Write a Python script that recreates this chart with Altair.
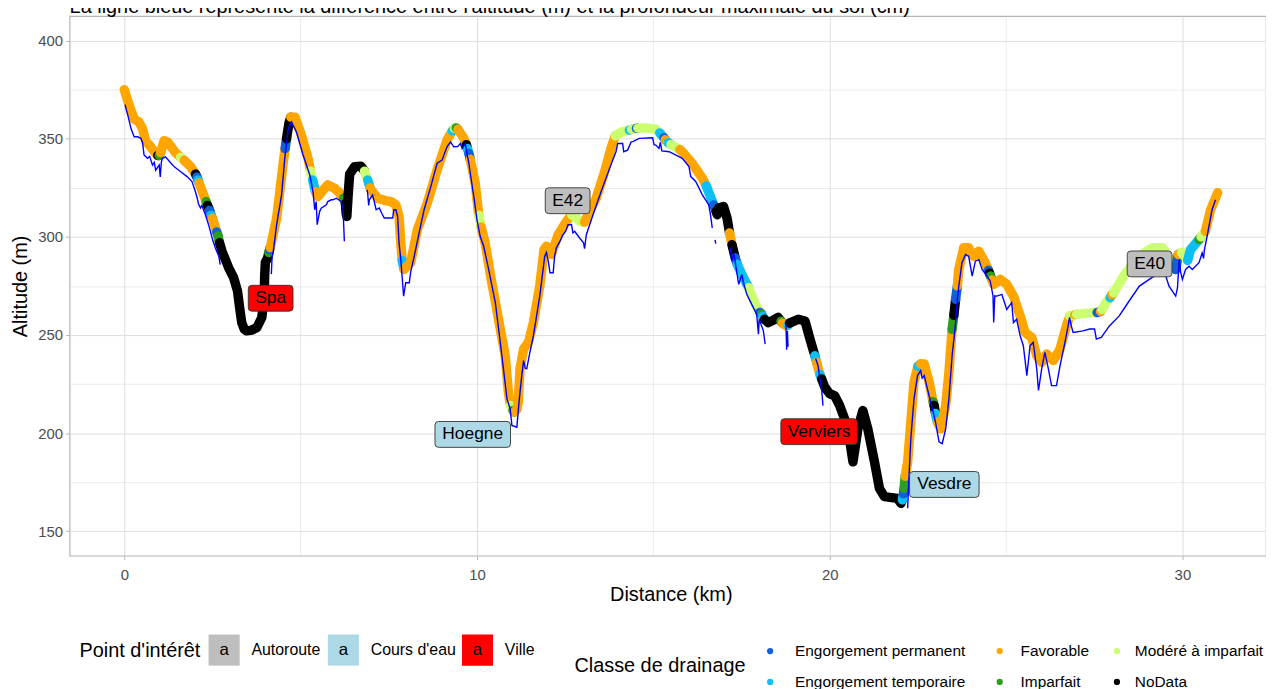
import altair as alt
import pandas as pd

# ---------------------------------------------------------------- texts
SUBTITLE = "La ligne bleue représente la différence entre l'altitude (m) et la profondeur maximale du sol (cm)"
X_TITLE = "Distance (km)"
Y_TITLE = "Altitude (m)"
X_GRID = [0, 5, 10, 15, 20, 25, 30]
Y_GRID = [150, 175, 200, 225, 250, 275, 300, 325, 350, 375, 400]

# ---------------------------------------------------------------- drainage classes
CLASS_CODES = ["P", "T", "F", "I", "M", "N"]
DRAIN_CLASSES = ["Engorgement permanent", "Engorgement temporaire", "Favorable",
                 "Imparfait", "Modéré à imparfait", "NoData"]
DRAIN_COLORS = ["#1160D8", "#0DBFF5", "#FFA500", "#2E9E1F", "#CCFF70", "#000000"]

# ---------------------------------------------------------------- profile (distance km, altitude m, class of following stretch)
PROFILE_KM = [
    0.00, 0.14, 0.28, 0.42, 0.52, 0.61, 0.70, 0.89, 0.95, 0.99,
    1.03, 1.13, 1.22, 1.45, 1.60, 1.70, 1.88, 2.02, 2.06, 2.09,
    2.12, 2.25, 2.32, 2.36, 2.42, 2.46, 2.50, 2.62, 2.66, 2.70,
    2.77, 2.96, 3.10, 3.21, 3.27, 3.33, 3.40, 3.47, 3.62, 3.76,
    3.90, 3.94, 3.97, 3.98, 4.00, 4.06, 4.10, 4.12, 4.14, 4.32,
    4.41, 4.51, 4.56, 4.60, 4.67, 4.72, 4.84, 5.02, 5.21, 5.28,
    5.34, 5.42, 5.49, 5.60, 5.77, 5.96, 6.10, 6.22, 6.27, 6.29,
    6.31, 6.35, 6.39, 6.53, 6.71, 6.81, 6.90, 6.97, 7.00, 7.18,
    7.40, 7.56, 7.70, 7.79, 7.84, 7.88, 7.93, 8.12, 8.31, 8.59,
    8.87, 9.15, 9.30, 9.36, 9.41, 9.46, 9.62, 9.70, 9.73, 9.77,
    9.81, 9.95, 10.05, 10.12, 10.23, 10.42, 10.61, 10.80, 10.89, 10.95,
    11.02, 11.06, 11.13, 11.17, 11.22, 11.32, 11.46, 11.60, 11.78, 11.90,
    11.97, 12.11, 12.30, 12.54, 12.68, 12.80, 12.91, 13.05, 13.38, 13.62,
    13.80, 13.92, 14.10, 14.32, 14.38, 14.52, 14.56, 14.70, 14.90, 15.07,
    15.18, 15.30, 15.34, 15.42, 15.50, 15.75, 15.82, 16.10, 16.39, 16.50,
    16.71, 16.78, 16.81, 16.85, 16.99, 17.09, 17.16, 17.23, 17.32, 17.38,
    17.51, 17.70, 17.89, 18.02, 18.07, 18.10, 18.15, 18.26, 18.40, 18.54,
    18.62, 18.66, 18.78, 18.82, 18.86, 19.11, 19.30, 19.44, 19.58, 19.63,
    19.72, 19.77, 19.86, 20.00, 20.14, 20.28, 20.42, 20.56, 20.66, 20.80,
    20.94, 21.08, 21.27, 21.41, 21.55, 21.92, 22.02, 22.06, 22.09, 22.11,
    22.14, 22.21, 22.30, 22.39, 22.50, 22.58, 22.68, 22.82, 22.93, 22.96,
    23.00, 23.05, 23.15, 23.29, 23.38, 23.47, 23.52, 23.57, 23.62, 23.66,
    23.80, 23.94, 24.08, 24.23, 24.41, 24.50, 24.53, 24.56, 24.60, 24.65,
    24.84, 25.02, 25.21, 25.40, 25.54, 25.73, 25.87, 26.01, 26.15, 26.34,
    26.53, 26.71, 26.81, 26.95, 27.00, 27.46, 27.58, 27.68, 27.72, 27.84,
    27.95, 28.00, 28.05, 28.40, 28.78, 29.15, 29.44, 29.62, 29.76, 29.81,
    29.88, 29.98, 30.15, 30.23, 30.47, 30.53, 30.65, 30.80, 31.00,
]
PROFILE_ALT = [
    375.0, 367.0, 360.0, 358.5, 355.0, 348.5, 347.0, 342.5, 341.5, 341.5,
    343.0, 349.0, 348.5, 343.0, 340.5, 339.0, 335.8, 332.0, 330.5, 329.0,
    327.5, 321.4, 318.0, 316.0, 313.5, 311.0, 309.5, 302.5, 300.5, 297.0,
    292.7, 284.2, 279.2, 272.4, 264.0, 256.3, 253.0, 252.1, 252.5, 253.8,
    258.9, 265.6, 272.0, 280.0, 287.0, 289.0, 292.0, 293.5, 294.5, 309.6,
    323.1, 338.3, 345.0, 350.0, 358.0, 361.0, 361.0, 351.8, 340.0, 333.5,
    329.0, 323.0, 320.5, 323.0, 326.5, 324.8, 322.5, 319.8, 317.0, 312.0,
    310.4, 322.0, 332.0, 335.8, 336.0, 333.5, 329.0, 325.0, 323.9, 319.7,
    318.5, 318.0, 316.3, 310.4, 296.9, 288.0, 283.4, 286.8, 303.7, 317.2,
    334.1, 349.3, 354.0, 355.3, 355.5, 354.8, 350.5, 347.0, 345.0, 342.5,
    339.5, 327.3, 311.0, 305.0, 296.9, 276.6, 258.0, 239.4, 220.8, 214.0,
    211.5, 210.7, 212.0, 215.8, 232.7, 242.8, 246.2, 256.4, 275.0, 293.5,
    295.2, 291.0, 301.1, 307.9, 311.3, 310.0, 307.9, 307.5, 319.7, 333.2,
    345.1, 351.5, 353.5, 354.4, 354.8, 355.3, 355.4, 355.5, 355.3, 354.9,
    353.0, 350.5, 349.5, 348.0, 347.0, 344.5, 343.4, 337.5, 329.9, 326.0,
    316.3, 313.0, 311.3, 314.7, 315.5, 309.6, 302.0, 296.0, 289.3, 286.0,
    280.8, 274.1, 265.6, 261.5, 260.6, 259.5, 258.0, 256.3, 257.5, 258.9,
    257.0, 256.0, 254.6, 255.0, 256.0, 258.0, 257.1, 247.9, 239.4, 236.0,
    230.0, 227.6, 223.4, 220.0, 219.1, 214.1, 207.3, 197.2, 185.3, 202.2,
    211.5, 202.2, 185.3, 171.8, 167.6, 166.7, 164.2, 166.0, 169.0, 171.8,
    178.0, 185.3, 205.6, 225.9, 234.0, 235.2, 235.2, 225.9, 216.0, 214.1,
    210.0, 205.6, 202.2, 214.1, 231.0, 252.9, 260.0, 268.2, 275.0, 283.4,
    294.4, 294.4, 290.1, 292.7, 286.8, 283.0, 281.5, 280.0, 278.0, 275.8,
    278.3, 275.8, 269.8, 259.7, 251.3, 248.7, 239.4, 236.0, 240.3, 236.9,
    242.8, 254.6, 259.7, 260.3, 260.5, 261.4, 261.4, 262.0, 263.0, 266.5,
    269.0, 270.5, 271.5, 281.7, 290.1, 294.4, 294.4, 289.3, 285.0, 283.4,
    291.0, 292.0, 288.0, 293.5, 298.6, 300.0, 302.8, 313.8, 322.5,
]
PROFILE_CLASS = list(
    "FFFFFFFFNI" "FFFFMFFNPT" "FFINPTFPIN" "NNNNNNNNNN" "NNNNNNIPFF"
    "FFPNNFFFFM" "TFFFFFFINN" "NNNNNMTFFF" "FFFFFTFFFF" "FFTMIFFNTP"
    "FFMFFFFFFM" "IFFFFFFFFF" "FFFFMMMFFF" "FMMTMPMMMM" "TPFTMFFFFT"
    "PNNNNNFNPT" "TMMPITNNNN" "IFFTNNNNTF" "TNNNNNNNNN" "NNNNNNNTPI"
    "FFFFTFFFIN" "TFFFFINPFF" "FFFFFPNIFF" "FFFFFFFFFF" "FFMFMMPFMM"
    "TFMMMMMMIP" "FMTTIMFFF"
)

# ---------------------------------------------------------------- blue line (altitude - max soil depth); None = gap
BLUE_KM = [
    0.02, 0.10, 0.19, 0.28, 0.38, 0.47, 0.52, 0.56, 0.66, 0.72,
    0.80, 0.85, 0.89, 0.99, 1.02, 1.05, 1.08, 1.17, 1.30, 1.41,
    1.60, 1.78, 1.92, 2.00, 2.07, 2.10, 2.16, 2.20, 2.30, 2.39,
    2.49, 2.58, 2.68, 2.72, None,
    4.17, 4.19, 4.22, 4.32, 4.46, 4.55, 4.65, 4.74, 4.88, 5.07,
    5.26, 5.35, 5.40, 5.44, 5.47, 5.54, 5.59, 5.73, 5.77, 5.87,
    5.92, 6.01, 6.15, 6.20, 6.24, None,
    6.88, 6.90, 6.93, 6.95, 7.04, 7.10, 7.14, 7.23, 7.30, 7.37,
    7.61, 7.64, 7.70, 7.75, 7.79, 7.84, 7.92, 7.98, 8.08, 8.12,
    8.22, 8.36, 8.50, 8.69, 8.87, 9.01, 9.15, 9.25, 9.34, 9.45,
    9.53, 9.58, 9.67, 9.70, 9.77, 9.81, 9.91, 10.00, 10.09, 10.19,
    10.33, 10.52, 10.66, 10.75, 10.85, 10.94, 10.99, 11.13, 11.20, 11.27,
    11.32, 11.37, 11.41, 11.50, 11.60, 11.78, 11.92, 11.97, 12.02, 12.07,
    12.16, 12.20, 12.25, 12.35, 12.44, 12.52, 12.58, 12.68, 12.72, 12.77,
    12.91, 13.02, 13.05, 13.10, 13.29, 13.52, 13.76, 13.94, 13.99, 14.13,
    14.16, 14.27, 14.37, 14.42, 14.60, 14.98, 15.02, 15.07, 15.16, 15.20,
    15.24, 15.45, 15.82, 16.01, 16.06, 16.20, 16.39, 16.57, 16.62, 16.67, None,
    16.75, 16.77, None,
    17.18, 17.23, 17.28, 17.42, 17.51, 17.55, 17.65, 17.79, 17.93, 17.98,
    18.00, 18.12, 18.17, None,
    18.76, 18.78, 18.80, 18.82, None,
    19.60, 19.67, 19.72, 19.77, 19.81, None,
    22.21, 22.25, 22.30, 22.39, 22.49, 22.58, 22.62, 22.68, 22.77, 22.91,
    23.00, 23.10, 23.19, 23.29, 23.38, 23.47, 23.57, 23.62, 23.66, 23.75,
    23.85, 23.94, 24.04, 24.13, 24.23, 24.32, 24.46, 24.55, 24.63, 24.65,
    24.68, 24.74, 24.88, 25.02, 25.16, 25.21, 25.30, 25.40, 25.49, 25.59,
    25.68, 25.77, 25.87, 25.92, 26.01, 26.10, 26.20, 26.29, 26.43, 26.53,
    26.67, 26.76, 26.80, 26.85, 26.90, 27.18, 27.37, 27.51, 27.56, 27.70,
    27.93, 28.21, 28.49, 28.78, 29.06, 29.34, 29.53, 29.62, 29.81, 29.86,
    29.91, 29.95, 30.00, 30.09, 30.19, 30.28, 30.47, 30.56, 30.60, 30.62,
    30.70, 30.84, 30.94,
]
BLUE_ALT = [
    367.4, 362.0, 355.2, 351.0, 351.0, 350.2, 348.0, 341.7, 340.0, 341.0,
    336.6, 338.0, 334.0, 336.6, 330.5, 338.0, 340.0, 340.8, 338.0, 335.8,
    333.2, 330.7, 328.2, 324.0, 319.7, 317.0, 314.7, 316.0, 311.3, 306.2,
    299.4, 294.4, 290.1, 285.9, None,
    281.0, 290.0, 292.0, 306.2, 321.4, 340.0, 355.2, 358.6, 353.5, 341.7,
    331.5, 323.1, 313.8, 318.0, 306.2, 313.0, 314.7, 316.3, 318.0, 318.9,
    318.9, 319.7, 318.0, 315.0, 297.7, None,
    324.0, 322.3, 316.0, 318.9, 321.4, 317.0, 313.8, 314.7, 312.0, 309.6,
    309.6, 313.8, 313.8, 310.4, 296.9, 288.4, 269.8, 276.6, 276.6, 282.0,
    290.1, 302.0, 313.8, 325.6, 337.5, 339.1, 345.9, 348.4, 345.9, 346.0,
    347.6, 345.0, 347.6, 344.0, 337.5, 332.4, 320.5, 308.7, 300.3, 295.2,
    283.4, 266.5, 246.2, 232.7, 217.4, 212.4, 203.9, 203.0, 217.4, 229.3,
    236.9, 233.0, 232.7, 241.1, 249.6, 269.8, 290.1, 292.0, 287.6, 281.7,
    281.7, 290.0, 294.4, 297.7, 301.1, 303.0, 306.2, 306.2, 302.0, 302.8,
    299.4, 297.0, 294.0, 301.1, 311.3, 323.1, 334.9, 343.4, 347.6, 347.6,
    343.4, 344.2, 348.4, 348.5, 350.2, 350.5, 347.0, 346.8, 345.1, 348.2,
    343.8, 343.4, 340.0, 335.8, 330.7, 328.2, 321.4, 316.3, 311.3, 304.5, None,
    298.5, 296.5, None,
    294.4, 287.6, 292.0, 275.8, 280.8, 277.0, 270.7, 265.6, 260.6, 250.4,
    258.0, 252.1, 245.3, None,
    255.0, 242.5, 252.0, 244.0, None,
    238.0, 234.3, 228.0, 222.5, 214.0, None,
    161.7, 178.6, 197.2, 217.4, 229.3, 231.8, 228.0, 229.3, 222.5, 212.4,
    205.6, 195.5, 194.6, 202.2, 217.4, 239.4, 256.3, 268.2, 274.9, 286.8,
    291.0, 290.1, 280.0, 287.6, 288.4, 283.4, 280.0, 277.5, 270.0, 256.3,
    270.0, 269.8, 270.7, 263.0, 266.5, 256.3, 258.0, 249.6, 244.5, 229.3,
    244.5, 246.2, 232.7, 221.7, 232.7, 241.1, 232.7, 224.2, 224.2, 234.3,
    246.2, 254.6, 259.0, 254.6, 251.3, 252.1, 253.0, 253.0, 247.9, 248.7,
    254.6, 259.7, 267.3, 274.9, 278.3, 281.7, 280.0, 274.9, 269.8, 274.0,
    288.4, 282.0, 278.3, 283.4, 285.0, 283.4, 286.8, 291.8, 289.0, 293.0,
    300.3, 313.8, 318.9,
]

# ---------------------------------------------------------------- points of interest
POI_TYPES = ["Autoroute", "Cours d'eau", "Ville"]
POI_COLORS = ["#BEBEBE", "#ADD8E6", "#FF0000"]
LABEL_TEXT = ["Spa", "Hoegne", "E42", "Verviers", "Vesdre", "E40"]
LABEL_TYPE = ["Ville", "Cours d'eau", "Autoroute", "Ville", "Cours d'eau", "Autoroute"]
LABEL_KM = [4.15, 9.88, 12.57, 19.70, 23.25, 29.07]
LABEL_ALT = [268.7, 199.3, 318.4, 200.7, 173.8, 286.2]

# ---------------------------------------------------------------- styles / layout (pixels)
FONT = "Liberation Sans"
BOX_W = {"Spa": 45, "Hoegne": 76, "E42": 45, "Verviers": 77, "Vesdre": 70, "E40": 45}
BOX_H = 26
PLOT_W, PLOT_H = 1204, 543

# ---------------------------------------------------------------- build tables
code_to_name = dict(zip(CLASS_CODES, DRAIN_CLASSES))
n = min(len(PROFILE_KM), len(PROFILE_ALT), len(PROFILE_CLASS))
rows = []
i, run = 0, 0
while i < n - 1:
    c = PROFILE_CLASS[i]
    j = i
    while j < n - 1 and PROFILE_CLASS[j] == c:
        j += 1
    for k in range(i, j + 1):
        rows.append({"run": run, "o": k, "km": PROFILE_KM[k], "alt": PROFILE_ALT[k],
                     "classe": code_to_name[c]})
    run += 1
    i = j
prof_df = pd.DataFrame(rows)

brows = []
piece, o = 0, 0
for km, a in zip(BLUE_KM, BLUE_ALT):
    if km is None or a is None:
        piece += 1
        continue
    brows.append({"piece": piece, "o": o, "km": km, "alt": a})
    o += 1
blue_df = pd.DataFrame(brows)


def rrect(w, h, r=3.5):
    a, b = w / 2.0, h / 2.0
    return (f"M{-a + r:.2f},{-b:.2f}L{a - r:.2f},{-b:.2f}Q{a:.2f},{-b:.2f},{a:.2f},{-b + r:.2f}"
            f"L{a:.2f},{b - r:.2f}Q{a:.2f},{b:.2f},{a - r:.2f},{b:.2f}"
            f"L{-a + r:.2f},{b:.2f}Q{-a:.2f},{b:.2f},{-a:.2f},{b - r:.2f}"
            f"L{-a:.2f},{-b + r:.2f}Q{-a:.2f},{-b:.2f},{-a + r:.2f},{-b:.2f}Z")


lab_df = pd.DataFrame({"label": LABEL_TEXT, "type": LABEL_TYPE, "km": LABEL_KM, "alt": LABEL_ALT})
box_paths = [rrect(BOX_W[t], BOX_H) for t in LABEL_TEXT]

# ---------------------------------------------------------------- scales / axes
x_scale = alt.Scale(domain=[-1.55, 32.37], nice=False, zero=False)
y_scale = alt.Scale(domain=[137.5, 412.5], nice=False, zero=False)

x_axis = alt.Axis(
    values=X_GRID, labelExpr="datum.value % 10 === 0 ? datum.label : ''",
    title=X_TITLE, grid=True, gridColor="#DEDEDE",
    gridWidth={"condition": {"test": "datum.value % 10 === 0", "value": 1.0}, "value": 0.6},
    tickColor="#B3B3B3", tickSize=4, tickWidth=1,
    tickOpacity={"condition": {"test": "datum.value % 10 === 0", "value": 1}, "value": 0},
    domain=False, labelFontSize=15, labelColor="#4D4D4D", labelPadding=8,
    labelOverlap=False, labelFlush=False,
    titleFontSize=20, titleFontWeight="normal", titleColor="#000000", titlePadding=2,
    titleX=605, titleAnchor="middle")
y_axis = alt.Axis(
    values=Y_GRID, labelExpr="datum.value % 50 === 0 ? datum.label : ''",
    title=Y_TITLE, grid=True, gridColor="#DEDEDE",
    gridWidth={"condition": {"test": "datum.value % 50 === 0", "value": 1.0}, "value": 0.6},
    tickColor="#B3B3B3", tickSize=4, tickWidth=1,
    tickOpacity={"condition": {"test": "datum.value % 50 === 0", "value": 1}, "value": 0},
    domain=False, labelFontSize=15, labelColor="#4D4D4D", labelPadding=3,
    labelOverlap=False, labelFlush=False,
    titleFontSize=20, titleFontWeight="normal", titleColor="#000000", titlePadding=7)

X = alt.X("km:Q", scale=x_scale, axis=x_axis)
Y = alt.Y("alt:Q", scale=y_scale, axis=y_axis)

profile = alt.Chart(prof_df).mark_line(
    strokeWidth=9.5, strokeCap="round", strokeJoin="round"
).encode(
    x=X, y=Y,
    color=alt.Color("classe:N", scale=alt.Scale(domain=DRAIN_CLASSES, range=DRAIN_COLORS), legend=None),
    detail="run:N", order="o:Q")

blue = alt.Chart(blue_df).mark_line(color="#0000FF", strokeWidth=1.4).encode(
    x=X, y=Y, detail="piece:N", order="o:Q")

boxes = alt.Chart(lab_df).mark_point(
    filled=True, size=4, opacity=1, stroke="#333333", strokeWidth=0.9
).encode(
    x=X, y=Y,
    fill=alt.Fill("type:N", scale=alt.Scale(domain=POI_TYPES, range=POI_COLORS), legend=None),
    shape=alt.Shape("label:N", scale=alt.Scale(domain=LABEL_TEXT, range=box_paths), legend=None))

box_text = alt.Chart(lab_df).mark_text(fontSize=17.5, color="#000000", font=FONT).encode(
    x=X, y=Y, text="label:N")

subtitle = alt.Chart(pd.DataFrame({"t": [SUBTITLE]})).mark_text(
    align="left", baseline="alphabetic", fontSize=20, color="#000000", font=FONT
).encode(x=alt.value(0), y=alt.value(-3), text="t:N")

# ---------------------------------------------------------------- legends (pixel layout)
L1_Y = 638
L1_BOX_X = [155.5, 275.5, 410.5]
L1_LAB_X = [183, 303, 438]
leg1_df = pd.DataFrame({"t": POI_TYPES, "col": POI_COLORS, "bx": L1_BOX_X, "lx": L1_LAB_X,
                        "y": [L1_Y] * 3})
L2_ORDER = ["Engorgement permanent", "Engorgement temporaire", "Favorable",
            "Imparfait", "Modéré à imparfait", "NoData"]
L2_COL_DOT = [705, 936, 1054]
L2_COL_LAB = [730, 957, 1072]
L2_ROW_Y = [639, 670]
leg2_rows = []
for idx, name in enumerate(L2_ORDER):
    cidx, ridx = idx // 2, idx % 2
    leg2_rows.append({"t": name, "col": DRAIN_COLORS[DRAIN_CLASSES.index(name)],
                      "dx": L2_COL_DOT[cidx], "lx": L2_COL_LAB[cidx], "y": L2_ROW_Y[ridx]})
leg2_df = pd.DataFrame(leg2_rows)
titles_df = pd.DataFrame({"t": ["Point d'intérêt", "Classe de drainage"], "x": [10, 508], "y": [639, 654]})

PX = lambda f: alt.X(f, scale=None, axis=None)
PY = lambda f: alt.Y(f, scale=None, axis=None)

leg1_boxes = alt.Chart(leg1_df).mark_square(size=980, opacity=1, filled=True).encode(
    x=PX("bx:Q"), y=PY("y:Q"), color=alt.Color("col:N", scale=None, legend=None))
leg1_a = alt.Chart(leg1_df).mark_text(fontSize=17, color="#000000", font=FONT).encode(
    x=PX("bx:Q"), y=PY("y:Q"), text=alt.value("a"))
leg1_lab = alt.Chart(leg1_df).mark_text(fontSize=16, align="left", color="#000000", font=FONT).encode(
    x=PX("lx:Q"), y=PY("y:Q"), text="t:N")
leg2_dots = alt.Chart(leg2_df).mark_circle(size=40, opacity=1).encode(
    x=PX("dx:Q"), y=PY("y:Q"), color=alt.Color("col:N", scale=None, legend=None))
leg2_lab = alt.Chart(leg2_df).mark_text(fontSize=15.5, align="left", color="#000000", font=FONT).encode(
    x=PX("lx:Q"), y=PY("y:Q"), text="t:N")
leg_titles = alt.Chart(titles_df).mark_text(fontSize=20, align="left", color="#000000", font=FONT).encode(
    x=PX("x:Q"), y=PY("y:Q"), text="t:N")

chart = alt.layer(
    profile, blue, boxes, box_text, subtitle,
    leg1_boxes, leg1_a, leg1_lab, leg2_dots, leg2_lab, leg_titles
).properties(
    width=PLOT_W, height=PLOT_H,
    padding={"left": 62, "top": 6, "right": 0, "bottom": 132},
    autosize=alt.AutoSizeParams(type="none"),
).configure(font=FONT).configure_view(stroke="#B3B3B3", strokeWidth=1.2)

chart.save("out.html", embed_options={"renderer": "svg", "actions": False})
